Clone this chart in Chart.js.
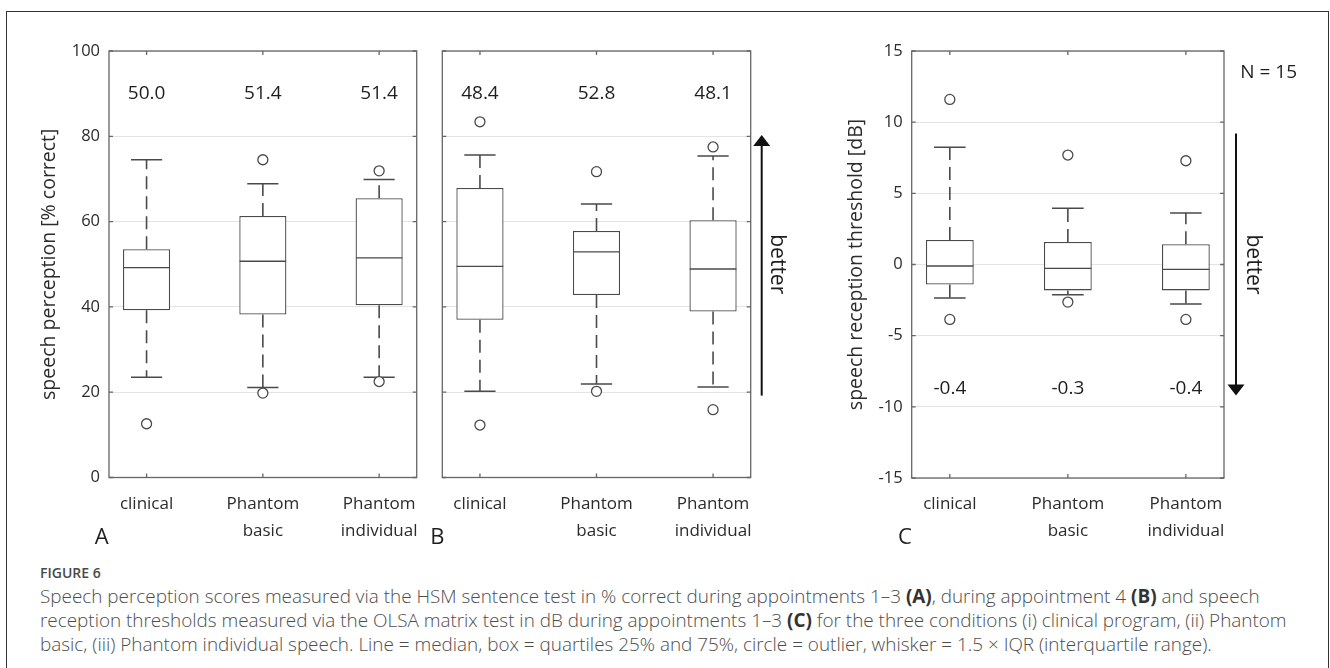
<!DOCTYPE html>
<html>
<head>
<meta charset="utf-8">
<script src="https://cdn.jsdelivr.net/npm/chart.js@4.4.1/dist/chart.umd.min.js"></script>
<style>
  html, body { margin: 0; padding: 0; background: #fff; }
  #fig { position: relative; width: 1330px; height: 668px; overflow: hidden; background: #fff;
         font-family: 'Open Sans', sans-serif; }
  #frame { position: absolute; left: 6px; top: 11px; width: 1323px; height: 720px;
           border: 1px solid #333; box-sizing: border-box; }
  canvas { position: absolute; top: 0; }
  #figno { position: absolute; left: 40px; top: 563px; font-size: 14px; font-weight: 600;
           color: #4a4a4a; line-height: 20px; }
  .cap { position: absolute; left: 40px; font-size: 18.9px; font-weight: 300; color: #4d4d4d;
         line-height: 24px; white-space: nowrap; }
  .cap b { font-weight: 700; color: #333; }
</style>
</head>
<body>
<div id="fig">
  <div id="frame"></div>
  <canvas id="panelA" width="430" height="560" style="left:0px"></canvas>
  <canvas id="panelB" width="370" height="560" style="left:430px"></canvas>
  <canvas id="panelC" width="490" height="560" style="left:840px"></canvas>
  <div id="figno">FIGURE 6</div>
  <div class="cap" style="top:584px">Speech perception scores measured via the HSM sentence test in % correct during appointments 1–3 <b>(A)</b>, during appointment 4 <b>(B)</b> and speech</div>
  <div class="cap" style="top:608px">reception thresholds measured via the OLSA matrix test in dB during appointments 1–3 <b>(C)</b> for the three conditions (i) clinical program, (ii) Phantom</div>
  <div class="cap" style="top:632px">basic, (iii) Phantom individual speech. Line = median, box = quartiles 25% and 75%, circle = outlier, whisker = 1.5 × IQR (interquartile range).</div>
</div>
<script>
// Conditions on the x axis (multi-line tick labels)
const categories = [['clinical'], ['Phantom', 'basic'], ['Phantom', 'individual']];

// A: HSM sentence test, appointments 1-3 (% correct)
const aLowerWhisker = [23.5, 21.1, 23.5];
const aQ1           = [39.2, 38.2, 40.4];
const aMedian       = [49.2, 50.7, 51.5];
const aQ3           = [53.5, 61.3, 65.5];
const aUpperWhisker = [74.5, 68.9, 69.9];
const aOutliers     = [[12.6], [74.5, 19.8], [71.9, 22.5]];
const aScores       = ['50.0', '51.4', '51.4'];

// B: HSM sentence test, appointment 4 (% correct)
const bLowerWhisker = [20.2, 21.9, 21.2];
const bQ1           = [37.0, 42.8, 38.9];
const bMedian       = [49.5, 52.9, 48.9];
const bQ3           = [67.9, 57.8, 60.3];
const bUpperWhisker = [75.6, 64.1, 75.4];
const bOutliers     = [[83.4, 12.3], [71.7, 20.2], [77.5, 15.9]];
const bScores       = ['48.4', '52.8', '48.1'];

// C: OLSA matrix test, appointments 1-3 (SRT in dB)
const cLowerWhisker = [-2.36, -2.12, -2.78];
const cQ1           = [-1.40, -1.82, -1.82];
const cMedian       = [-0.11, -0.27, -0.34];
const cQ3           = [1.72, 1.58, 1.42];
const cUpperWhisker = [8.23, 3.95, 3.62];
const cOutliers     = [[11.6, -3.86], [7.69, -2.64], [7.29, -3.86]];
const cScores       = ['-0.4', '-0.3', '-0.4'];

const percentRange = [0, 100, 20];
const dbRange      = [-15, 15, 5];

Chart.defaults.font.family = "'Open Sans', sans-serif";
Chart.defaults.color = '#2b2b2b';

const INK = '#4a4a4a';
const BOX_HALF = 0.2, CAP_HALF = 0.134;

// Turn [[x1,y1],[x2,y2]] pairs into one line series broken by gaps
function segmentSeries(pairs) {
  const out = [];
  pairs.forEach(([p, q]) => {
    out.push({ x: p[0], y: p[1] }, { x: q[0], y: q[1] }, { x: p[0], y: null });
  });
  return out;
}

function boxDatasets(lo, q1, med, q3, hi, outliers) {
  const pos = q1.map((_, i) => i + 1);
  return [
    { type: 'bar', order: 5, data: pos.map((x, i) => ({ x, y: [q1[i], q3[i]] })),
      backgroundColor: '#ffffff', borderColor: INK, borderWidth: 1.3, borderSkipped: false,
      barPercentage: 0.405, categoryPercentage: 1 },
    { type: 'scatter', order: 4, showLine: true, pointRadius: 0, borderColor: INK, borderWidth: 1.6,
      borderDash: [13, 7], spanGaps: false,
      data: segmentSeries(pos.flatMap((x, i) => [
        [[x, q3[i]], [x, hi[i]]], [[x, q1[i]], [x, lo[i]]]])) },
    { type: 'scatter', order: 3, showLine: true, pointRadius: 0, borderColor: INK, borderWidth: 1.5,
      spanGaps: false,
      data: segmentSeries(pos.flatMap((x, i) => [
        [[x - CAP_HALF, hi[i]], [x + CAP_HALF, hi[i]]],
        [[x - CAP_HALF, lo[i]], [x + CAP_HALF, lo[i]]]])) },
    { type: 'scatter', order: 2, showLine: true, pointRadius: 0, borderColor: INK, borderWidth: 1.4,
      spanGaps: false,
      data: segmentSeries(pos.map((x, i) => [[x - BOX_HALF, med[i]], [x + BOX_HALF, med[i]]])) },
    { type: 'scatter', order: 1, pointRadius: 5, pointStyle: 'circle', pointBorderWidth: 1.3,
      pointBackgroundColor: '#ffffff', pointBorderColor: INK, showLine: false,
      data: outliers.flatMap((list, i) => list.map(v => ({ x: i + 1, y: v }))) }
  ];
}

// Frame, inward ticks, score labels and annotations of one panel
function decorPlugin(opts) {
  return {
    id: 'panelDecor',
    afterDatasetsDraw(chart) {
      const { ctx, chartArea: a, scales: { x, y } } = chart;
      ctx.save();
      ctx.strokeStyle = '#666';
      ctx.lineWidth = 1.3;
      ctx.strokeRect(a.left, a.top, a.right - a.left, a.bottom - a.top);
      ctx.beginPath();
      x.ticks.forEach(t => {
        const px = x.getPixelForValue(t.value);
        ctx.moveTo(px, a.top); ctx.lineTo(px, a.top + 4);
        ctx.moveTo(px, a.bottom); ctx.lineTo(px, a.bottom - 4);
      });
      y.ticks.forEach(t => {
        const py = y.getPixelForValue(t.value);
        ctx.moveTo(a.left, py); ctx.lineTo(a.left + 4, py);
        ctx.moveTo(a.right, py); ctx.lineTo(a.right - 4, py);
      });
      ctx.stroke();

      ctx.fillStyle = '#1e1e1e';
      ctx.textAlign = 'center';
      ctx.textBaseline = 'middle';
      ctx.font = "19px 'Open Sans', sans-serif";
      opts.scores.forEach((s, i) => ctx.fillText(s, x.getPixelForValue(i + 1), y.getPixelForValue(opts.scoreAt)));

      ctx.font = "22px 'Open Sans', sans-serif";
      ctx.fillText(opts.letter, opts.letterPos[0], opts.letterPos[1]);

      if (opts.note) {
        ctx.font = "19px 'Open Sans', sans-serif";
        ctx.fillText(opts.note, a.right + opts.noteDx, a.top + opts.noteDy);
      }

      if (opts.arrow) {
        const ax = a.right + opts.arrow.dx;
        const y0 = y.getPixelForValue(opts.arrow.from);
        const y1 = y.getPixelForValue(opts.arrow.to);
        const dir = Math.sign(y1 - y0);
        ctx.strokeStyle = '#111';
        ctx.fillStyle = '#111';
        ctx.lineWidth = 2;
        ctx.beginPath();
        ctx.moveTo(ax, y0); ctx.lineTo(ax, y1 - dir * 8);
        ctx.stroke();
        ctx.beginPath();
        ctx.moveTo(ax, y1);
        ctx.lineTo(ax - 8.5, y1 - dir * 11);
        ctx.lineTo(ax + 8.5, y1 - dir * 11);
        ctx.closePath();
        ctx.fill();

        ctx.save();
        ctx.translate(a.right + opts.arrow.textDx, (a.top + a.bottom) / 2);
        ctx.rotate(Math.PI / 2);
        ctx.font = "21px 'Open Sans', sans-serif";
        ctx.fillStyle = '#1e1e1e';
        ctx.fillText('better', 0, 0);
        ctx.restore();
      }
      ctx.restore();
    }
  };
}

function makePanel(id, o) {
  new Chart(document.getElementById(id), {
    type: 'scatter',
    data: { datasets: boxDatasets(o.lo, o.q1, o.med, o.q3, o.hi, o.out) },
    options: {
      responsive: false,
      animation: false,
      layout: { padding: { top: 51, right: o.padRight, left: 0, bottom: 0 } },
      plugins: { legend: { display: false }, tooltip: { enabled: false } },
      scales: {
        x: {
          type: 'linear', min: 0.677, max: 3.323, offset: false, bounds: 'data',
          grid: { display: false, offset: false }, border: { display: false },
          afterBuildTicks: s => { s.ticks = categories.map((_, i) => ({ value: i + 1 })); },
          ticks: { autoSkip: false, maxRotation: 0, padding: 5, color: '#2b2b2b',
                   font: { size: 17, lineHeight: 27 / 17 },
                   callback: (v, i) => categories[i] },
          afterFit: s => { s.height = o.xHeight; }
        },
        y: {
          type: 'linear', min: o.range[0], max: o.range[1], beginAtZero: false,
          grid: { color: '#e4e4e4', lineWidth: 1, drawTicks: false },
          border: { display: false },
          ticks: { display: o.showYTicks, stepSize: o.range[2], padding: 9, color: '#2b2b2b',
                   font: { size: 16.5 } },
          title: { display: !!o.title, text: o.title || '', color: '#2b2b2b',
                   font: { size: 19.5 }, padding: { top: o.titlePad, bottom: 0 } },
          afterFit: s => { s.width = o.yWidth; }
        }
      }
    },
    plugins: [decorPlugin(o.decor)]
  });
}

makePanel('panelA', {
  lo: aLowerWhisker, q1: aQ1, med: aMedian, q3: aQ3, hi: aUpperWhisker, out: aOutliers,
  range: percentRange, showYTicks: true, title: 'speech perception [% correct]', titlePad: 38,
  yWidth: 109, xHeight: 82.5, padRight: 13.3,
  decor: { scores: aScores, scoreAt: 90, letter: 'A', letterPos: [101.7, 538] }
});

makePanel('panelB', {
  lo: bLowerWhisker, q1: bQ1, med: bMedian, q3: bQ3, hi: bUpperWhisker, out: bOutliers,
  range: percentRange, showYTicks: false, title: '', titlePad: 0,
  yWidth: 12.3, xHeight: 82.5, padRight: 49.3,
  decor: { scores: bScores, scoreAt: 90, letter: 'B', letterPos: [7.3, 538],
           arrow: { dx: 11, from: 19.2, to: 80.3, textDx: 26 } }
});

makePanel('panelC', {
  lo: cLowerWhisker, q1: cQ1, med: cMedian, q3: cQ3, hi: cUpperWhisker, out: cOutliers,
  range: dbRange, showYTicks: true, title: 'speech reception threshold [dB]', titlePad: 5,
  yWidth: 71.7, xHeight: 82, padRight: 106,
  decor: { scores: cScores, scoreAt: -8.7, letter: 'C', letterPos: [65, 538],
           note: 'N = 15', noteDx: 44.7, noteDy: 21.3,
           arrow: { dx: 12, from: 9.2, to: -9.2, textDx: 29 } }
});
</script>
</body>
</html>
